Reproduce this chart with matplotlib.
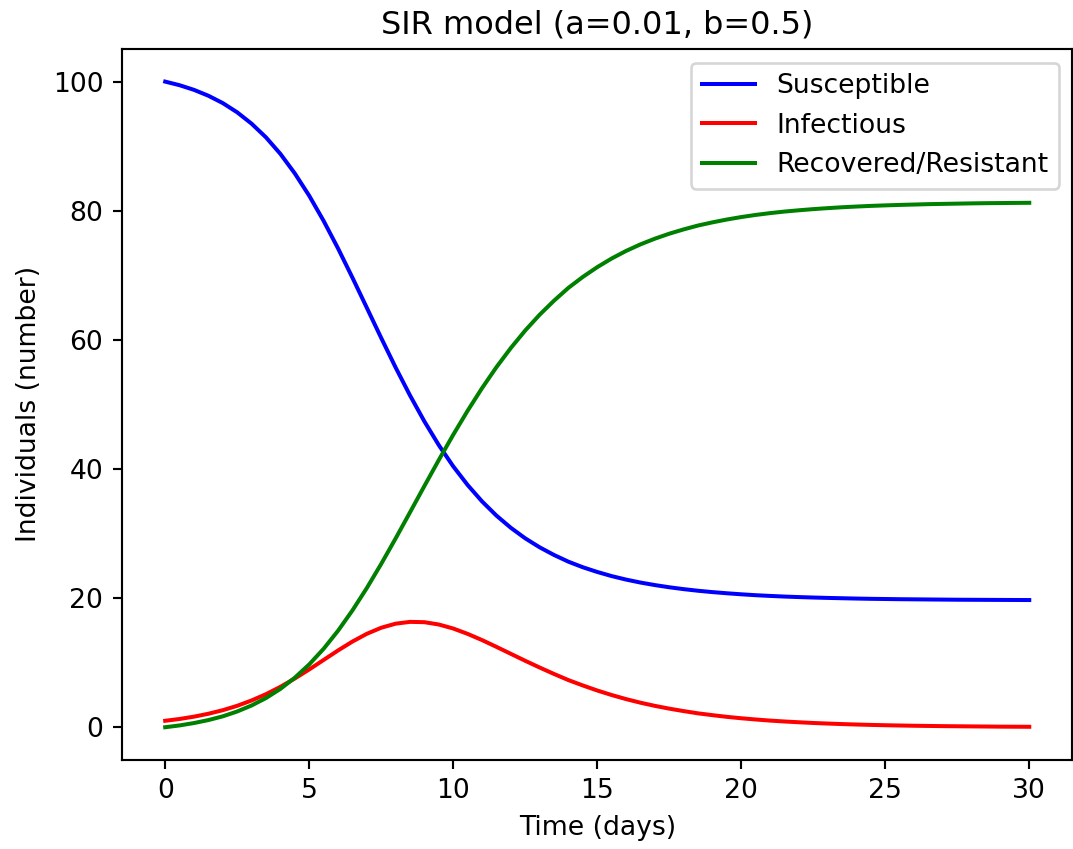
import numpy as np
import matplotlib
matplotlib.use("Agg")
import matplotlib.pyplot as plt

# time grid (days), half-day readings
days = np.linspace(0, 30, 61)

susceptible = [100.00, 99.44, 98.72, 97.81, 96.67, 95.24, 93.48, 91.36, 88.80, 85.78,
               82.32, 78.43, 74.17, 69.64, 64.97, 60.29, 55.72, 51.39, 47.36, 43.69,
               40.41, 37.52, 34.98, 32.78, 30.89, 29.26, 27.87, 26.68, 25.64, 24.78,
               24.05, 23.41, 22.87, 22.41, 22.02, 21.68, 21.39, 21.14, 20.93, 20.75,
               20.59, 20.45, 20.34, 20.24, 20.16, 20.09, 20.03, 19.98, 19.93, 19.89,
               19.86, 19.83, 19.81, 19.79, 19.77, 19.75, 19.74, 19.73, 19.72, 19.71,
               19.70]

infectious = [1.00, 1.28, 1.64, 2.09, 2.64, 3.32, 4.15, 5.12, 6.26, 7.55,
              8.95, 10.42, 11.89, 13.27, 14.47, 15.41, 16.04, 16.32, 16.27, 15.91,
              15.29, 14.46, 13.50, 12.45, 11.37, 10.29, 9.25, 8.25, 7.30, 6.47,
              5.69, 4.99, 4.36, 3.80, 3.31, 2.88, 2.50, 2.15, 1.87, 1.61,
              1.39, 1.20, 1.03, 0.89, 0.77, 0.66, 0.57, 0.49, 0.42, 0.36,
              0.31, 0.27, 0.23, 0.20, 0.17, 0.15, 0.13, 0.11, 0.09, 0.08,
              0.07]

recovered = [0.00, 0.28, 0.65, 1.11, 1.69, 2.44, 3.37, 4.52, 5.94, 7.67,
             9.73, 12.15, 14.94, 18.09, 21.56, 25.30, 29.24, 33.29, 37.37, 41.40,
             45.30, 49.02, 52.52, 55.77, 58.74, 61.45, 63.89, 66.07, 68.06, 69.75,
             71.26, 72.60, 73.77, 74.79, 75.67, 76.44, 77.11, 77.71, 78.20, 78.64,
             79.02, 79.35, 79.63, 79.87, 80.07, 80.25, 80.40, 80.54, 80.65, 80.75,
             80.83, 80.90, 80.96, 81.02, 81.06, 81.10, 81.14, 81.17, 81.19, 81.21,
             81.23]

labels = ["Susceptible", "Infectious", "Recovered/Resistant"]
colors = ["b", "r", "g"]

DPI = 192
fig = plt.figure(figsize=(1073 / DPI, 849 / DPI), dpi=DPI)
ax = fig.add_subplot(111)
fig.subplots_adjust(left=0.1137, right=0.9995, bottom=0.1054, top=0.9419)

for series, lab, col in zip([susceptible, infectious, recovered], labels, colors):
    ax.plot(days, series, color=col, label=lab)

ax.set_title("SIR model (a=0.01, b=0.5)")
ax.set_xlabel("Time (days)")
ax.set_ylabel("Individuals (number)")
ax.legend(loc="upper right")

fig.savefig("out.png", dpi=DPI)
